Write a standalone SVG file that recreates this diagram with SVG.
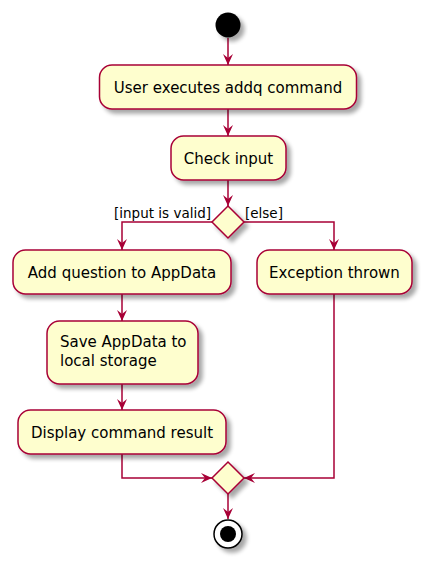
<svg xmlns="http://www.w3.org/2000/svg" width="425" height="561" viewBox="0 0 425 561">
<style>
.act{fill:#FEFECE;stroke:#A80036;stroke-width:1.5}
.t{font-family:"DejaVu Sans",Verdana,sans-serif;font-size:15px;fill:#000}
.lbl{font-family:"DejaVu Sans",Verdana,sans-serif;font-size:13.5px;fill:#000}
.c{fill:none;stroke:#A80036;stroke-width:1.5}
</style>
<defs>
<filter id="sh" x="-20%" y="-20%" width="150%" height="150%">
<feGaussianBlur in="SourceAlpha" stdDeviation="2"/>
<feOffset dx="4" dy="4" result="o"/>
<feComponentTransfer><feFuncA type="linear" slope="0.35"/></feComponentTransfer>
<feMerge><feMergeNode/><feMergeNode in="SourceGraphic"/></feMerge>
</filter>
<marker id="ah" viewBox="0 0 11 10" refX="11" refY="5" markerWidth="11" markerHeight="10" markerUnits="userSpaceOnUse" orient="auto">
<path d="M0,0 L11,5 L0,10 L4,5 Z" fill="#A80036"/>
</marker>
</defs>
<g id="connectors">
<path class="c" d="M228,38 V65" marker-end="url(#ah)"/>
<path class="c" d="M228,109 V136" marker-end="url(#ah)"/>
<path class="c" d="M228,180 V206" marker-end="url(#ah)"/>
<path class="c" d="M212,222 H122 V250" marker-end="url(#ah)"/>
<path class="c" d="M244,222 H334 V250" marker-end="url(#ah)"/>
<path class="c" d="M122,294 V321" marker-end="url(#ah)"/>
<path class="c" d="M122,384 V410" marker-end="url(#ah)"/>
<path class="c" d="M122,454 V478 H212" marker-end="url(#ah)"/>
<path class="c" d="M334,294 V478 H244" marker-end="url(#ah)"/>
<path class="c" d="M228,494 V519" marker-end="url(#ah)"/>
<text class="lbl" x="211" y="218" text-anchor="end">[input is valid]</text>
<text class="lbl" x="245" y="218">[else]</text>
</g>
<g id="start">
<circle cx="228" cy="25" r="12.5" fill="#000" filter="url(#sh)"/>
</g>
<g id="userExecutes">
<rect class="act" x="99.5" y="65" width="257" height="44" rx="12.5" filter="url(#sh)"/>
<text class="t" x="228" y="93" text-anchor="middle">User executes addq command</text>
</g>
<g id="checkInput">
<rect class="act" x="171" y="136" width="115" height="44" rx="12.5" filter="url(#sh)"/>
<text class="t" x="228.5" y="164" text-anchor="middle">Check input</text>
</g>
<g id="decision">
<polygon class="act" points="228,206 244,222 228,238 212,222" filter="url(#sh)"/>
</g>
<g id="addQuestion">
<rect class="act" x="13" y="250" width="218" height="44" rx="12.5" filter="url(#sh)"/>
<text class="t" x="122" y="278" text-anchor="middle">Add question to AppData</text>
</g>
<g id="exception">
<rect class="act" x="257" y="250" width="155" height="44" rx="12.5" filter="url(#sh)"/>
<text class="t" x="334.5" y="278" text-anchor="middle">Exception thrown</text>
</g>
<g id="saveAppData">
<rect class="act" x="47" y="321" width="151" height="63" rx="12.5" filter="url(#sh)"/>
<text class="t" x="60" y="347">Save AppData to</text>
<text class="t" x="60" y="366">local storage</text>
</g>
<g id="displayResult">
<rect class="act" x="18" y="410" width="208" height="44" rx="12.5" filter="url(#sh)"/>
<text class="t" x="122" y="438" text-anchor="middle">Display command result</text>
</g>
<g id="merge">
<polygon class="act" points="228,462 244,478 228,494 212,478" filter="url(#sh)"/>
</g>
<g id="end">
<circle cx="228" cy="534" r="14" fill="#fff" stroke="#000" stroke-width="1.5" filter="url(#sh)"/>
<circle cx="228" cy="534" r="8" fill="#000"/>
</g>
</svg>
